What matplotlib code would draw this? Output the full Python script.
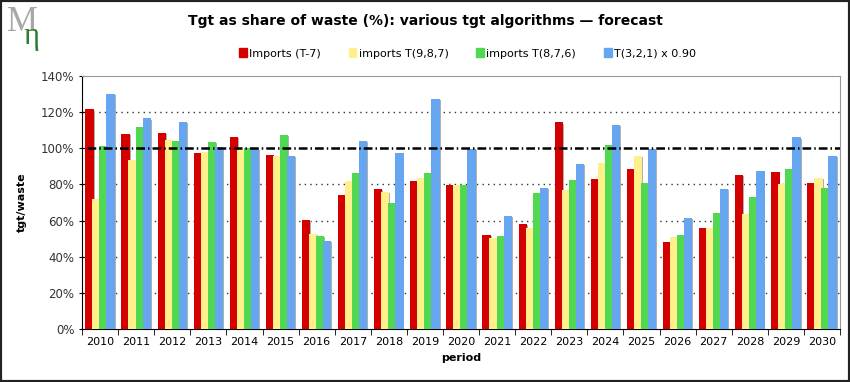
import numpy as np
import matplotlib.pyplot as plt
from matplotlib.ticker import FuncFormatter, MultipleLocator, FixedLocator

years = list(range(2010, 2031))
imports_t7 = [121.5, 108, 108.5, 97.2, 106.3, 96.3, 60.2, 74.3, 77.4, 81.9, 79.8,
              52, 58, 114.3, 82.8, 88.7, 48.1, 55.7, 85, 86.7, 80.6]
imports_987 = [72, 93.5, 104.4, 98, 99.3, 96, 52.8, 81.9, 75.6, 83.7, 79.8,
               50.4, 56, 76.9, 92, 95.7, 51, 55.7, 63.9, 80, 83.7]
imports_876 = [101, 112, 104, 103.5, 100, 107.6, 51.3, 86.3, 70, 86.3, 79.8,
               51.7, 75, 82.4, 101.7, 81, 52.2, 64.3, 73.3, 88.3, 78.3]
t321_090 = [130, 116.5, 114.8, 100.7, 99.6, 95.7, 48.5, 103.9, 97.6, 127.2, 99.4,
            62.8, 78.1, 91.3, 113, 99.4, 61.7, 77.4, 87.2, 106, 95.7]

series = [
    ('Imports (T-7)', imports_t7, '#d40000'),
    ('imports T(9,8,7)', imports_987, '#fff08c'),
    ('imports T(8,7,6)', imports_876, '#50d850'),
    ('T(3,2,1) x 0.90', t321_090, '#66a6f0'),
]

fig = plt.figure(figsize=(8.5, 3.82), dpi=100)
ax = fig.add_axes([0.0965, 0.1387, 0.8918, 0.6623])

x = np.arange(len(years))
width = 0.23
step = 0.195
for i, (name, vals, col) in enumerate(series):
    off = (i - 1.5) * step
    # light shadow on the right of each bar
    ax.bar(x + off + 0.025, np.array(vals) - 0.6, width, color='#b0b0b0',
           zorder=2 + i * 2, linewidth=0)
    ax.bar(x + off, vals, width, color=col, label=name, zorder=3 + i * 2,
           linewidth=0)

ax.set_xlim(-0.5, len(years) - 0.5)
ax.set_ylim(0, 140)

for v in [20, 40, 60, 80, 120]:
    ax.axhline(v, color='#333333', lw=1, ls=(0, (1, 3)), zorder=1)
ax.axhline(100, xmin=0.006, color='black', lw=1.8, ls=(0, (3.5, 1.2, 0.6, 1.2)), zorder=20)

ax.yaxis.set_major_locator(MultipleLocator(20))
ax.yaxis.set_major_formatter(FuncFormatter(lambda v, p: f'{v:.0f}%'))
ax.set_xticks(x)
ax.set_xticklabels([str(y) for y in years])
ax.xaxis.set_minor_locator(FixedLocator(np.arange(-0.5, len(years), 1)))
ax.tick_params(axis='x', which='major', length=0, labelsize=8, pad=6)
ax.tick_params(axis='x', which='minor', length=4, direction='out')
ax.tick_params(axis='y', length=4, direction='inout', labelsize=8.5, colors='black')
for lab in ax.get_yticklabels():
    lab.set_color('#333333')

ax.spines['top'].set_color('#999999')
ax.spines['right'].set_color('#999999')
ax.spines['left'].set_color('black')
ax.spines['bottom'].set_color('black')

ax.set_xlabel('period', fontsize=8, fontweight='bold', labelpad=4)
ax.set_ylabel('tgt/waste', fontsize=8, fontweight='bold', labelpad=10)

fig.text(0.5, 0.945, 'Tgt as share of waste (%): various tgt algorithms \u2014 forecast',
         ha='center', va='center', fontsize=10, fontweight='bold')

handles = [plt.Rectangle((0, 0), 1, 1, color=c) for _, _, c in series]
fig.legend(handles, [s[0] for s in series], loc='center', bbox_to_anchor=(0.55, 0.86),
           ncol=4, frameon=False, fontsize=8, handlelength=0.7, handleheight=0.9,
           handletextpad=0.2, columnspacing=2.5)

# logo: grey M with a green eta tucked into it
fig.text(0.008, 0.94, 'M', fontsize=25, family='Liberation Serif', color='#a8a8a8',
         ha='left', va='center')
fig.text(0.028, 0.905, '\u03b7', fontsize=22, family='Liberation Serif', color='#2e7d32',
         ha='left', va='center')

# outer frame
fig.patches.append(plt.Rectangle((0, 0), 1, 1, transform=fig.transFigure, fill=False,
                                 edgecolor='#222222', lw=3))

fig.savefig('out.png', dpi=100)
